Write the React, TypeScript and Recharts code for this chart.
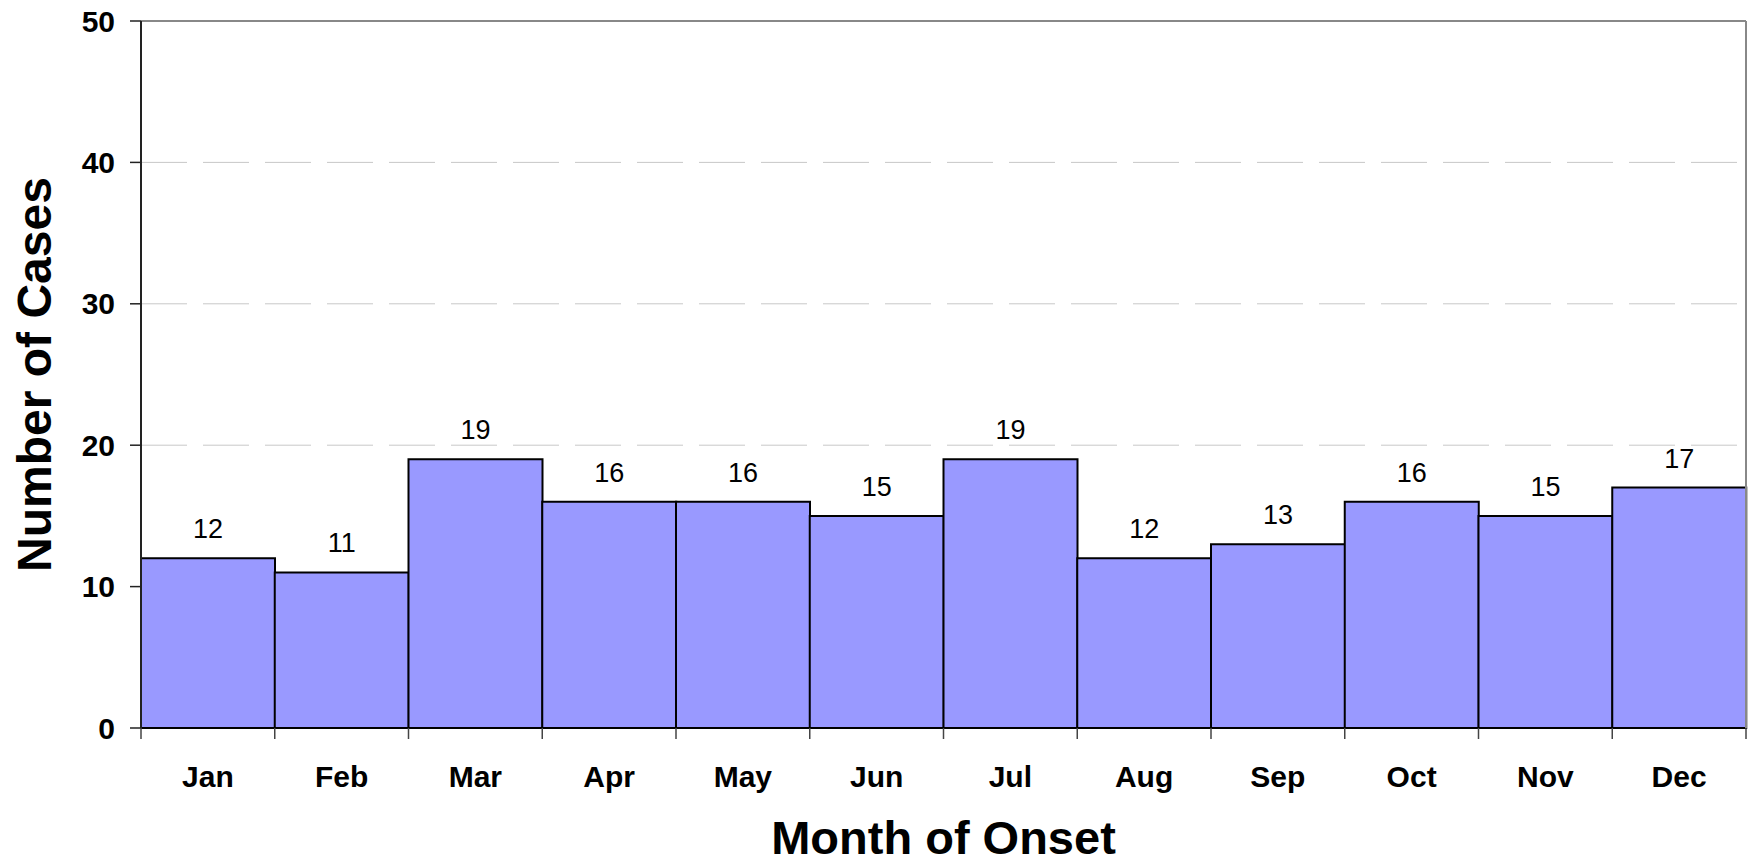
import React from 'react';
import { BarChart, Bar, XAxis, YAxis, CartesianGrid, LabelList, Label } from 'recharts';

const months = ['Jan', 'Feb', 'Mar', 'Apr', 'May', 'Jun', 'Jul', 'Aug', 'Sep', 'Oct', 'Nov', 'Dec'];
const cases = [12, 11, 19, 16, 16, 15, 19, 12, 13, 16, 15, 17];
const yTicks = [0, 10, 20, 30, 40, 50];

const data = months.map((month, i) => ({ month, cases: cases[i] }));

const FONT = '"Liberation Sans", Arial, sans-serif';

// month label plus a tick mark on the boundary between months
const MonthTick = (props: any) => {
    const { x, y, payload, index, width, visibleTicksCount } = props;
    const half = width / visibleTicksCount / 2;
    const isLast = index === visibleTicksCount - 1;
    return (
        <g>
            <line x1={x - half} x2={x - half} y1={y} y2={y + 11} stroke="#444" strokeWidth={1.5} />
            {isLast && <line x1={x + half} x2={x + half} y1={y} y2={y + 11} stroke="#444" strokeWidth={1.5} />}
            <text x={x} y={y + 59} textAnchor="middle" fontFamily={FONT} fontSize={30}
                fontWeight="bold" fill="#000">
                {payload.value}
            </text>
        </g>
    );
};

const YTitle = (props: any) => {
    const { viewBox } = props;
    const x = viewBox.x + 51;
    const y = viewBox.y + viewBox.height / 2;
    return (
        <text x={x} y={y} transform={`rotate(-90, ${x}, ${y})`} textAnchor="middle"
            fontFamily={FONT} fontSize={48} fontWeight="bold" fill="#000">
            Number of Cases
        </text>
    );
};

const XTitle = (props: any) => {
    const { viewBox } = props;
    return (
        <text x={viewBox.x + viewBox.width / 2} y={viewBox.y + 126} textAnchor="middle"
            fontFamily={FONT} fontSize={47} fontWeight="bold" fill="#000">
            Month of Onset
        </text>
    );
};

export default function App() {
    return (
        <div style={{ position: 'absolute', left: 0, top: 0, background: '#fff' }}>
            <BarChart width={1750} height={865} data={data} barCategoryGap={0}
                margin={{ top: 20, right: 3, bottom: 0, left: 0 }}>
                <CartesianGrid vertical={false} stroke="#c8c8c8" strokeDasharray="46 16" />
                <XAxis xAxisId="top" orientation="top" height={1} tick={false} tickLine={false}
                    axisLine={{ stroke: '#888', strokeWidth: 2 }} />
                <XAxis xAxisId="cat" dataKey="month" height={137} tickLine={false}
                    axisLine={{ stroke: '#000', strokeWidth: 2 }}
                    tickSize={0} tickMargin={0} interval={0} tick={MonthTick}>
                    <Label content={XTitle} />
                </XAxis>
                <YAxis domain={[0, 50]} ticks={yTicks} width={141} tickSize={11} tickMargin={15}
                    interval={0} axisLine={{ stroke: '#222', strokeWidth: 2 }}
                    tickLine={{ stroke: '#222', strokeWidth: 1.5 }}
                    tick={{ fill: '#000', fontSize: 30, fontWeight: 'bold', fontFamily: FONT }}>
                    <Label content={YTitle} />
                </YAxis>
                <YAxis yAxisId="right" orientation="right" domain={[0, 50]} width={1}
                    tick={false} tickLine={false} axisLine={{ stroke: '#888', strokeWidth: 2 }} />
                <Bar xAxisId="cat" dataKey="cases" fill="#9999ff" stroke="#000" strokeWidth={2}
                    isAnimationActive={false}>
                    <LabelList dataKey="cases" position="top" offset={20} fill="#000"
                        fontSize={27} fontFamily={FONT} />
                </Bar>
            </BarChart>
        </div>
    );
}
